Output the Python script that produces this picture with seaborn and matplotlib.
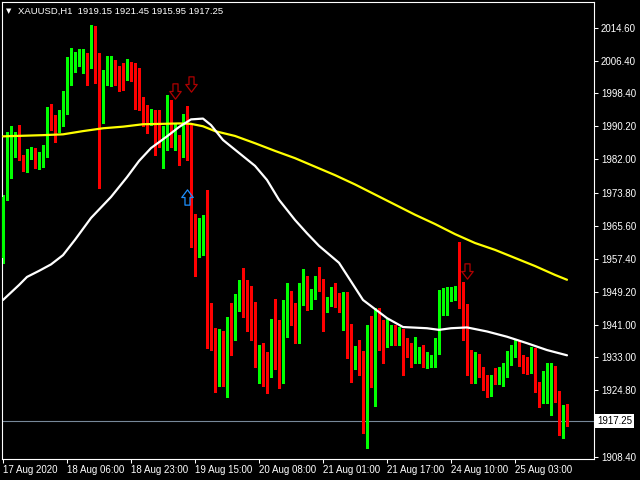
import numpy as np
import pandas as pd
import seaborn as sns
import matplotlib.pyplot as plt
from matplotlib.path import Path

# XAUUSD H1 candles
opens = [1957.6, 1972.5, 1980.2, 1984.8, 1987.5, 1982.3, 1979.5, 1983.0, 1984.1, 1980.9,
         1982.7, 1984.3, 1993.2, 1992.0, 1990.5, 1990.4, 1997.2, 2003.1, 2004.7, 2006.0,
         2006.8, 2007.3, 2006.6, 2013.2, 2004.6, 1992.3, 2002.0, 2005.0, 2005.6, 2003.6,
         2003.5, 2003.3, 2005.9, 2005.0, 2000.2, 1996.3, 1994.5, 1993.5, 1993.4, 1987.0,
         1986.1, 1987.6, 1995.2, 1986.2, 1987.2, 1985.6, 1991.5, 1984.7, 1964.2, 1962.9,
         1962.9, 1965.8, 1946.0, 1939.9, 1926.7, 1939.3, 1927.1, 1942.7, 1941.3, 1946.4,
         1949.4, 1947.4, 1942.9, 1942.0, 1934.0, 1934.6, 1930.7, 1930.7, 1937.3, 1934.0,
         1931.1, 1944.3, 1946.5, 1944.0, 1939.8, 1948.9, 1952.4, 1946.0, 1947.8, 1952.4,
         1950.7, 1945.0, 1946.2, 1949.7, 1947.7, 1947.0, 1948.7, 1940.6, 1934.2, 1935.3,
         1934.6, 1915.8, 1938.3, 1930.0, 1944.6, 1939.3, 1936.9, 1938.5, 1939.9, 1937.8,
         1939.3, 1937.0, 1934.6, 1934.5, 1934.4, 1935.1, 1931.1, 1933.0, 1933.2, 1934.4,
         1943.9, 1946.2, 1947.0, 1949.5, 1949.7, 1948.4, 1937.9, 1930.7, 1929.9, 1931.1,
         1928.4, 1927.4, 1926.6, 1929.0, 1928.4, 1929.5, 1929.6, 1933.8, 1934.3, 1935.8,
         1932.5, 1930.7, 1930.5, 1934.8, 1925.3, 1923.3, 1923.7, 1924.9, 1925.9, 1923.0,
         1917.5, 1919.15]
highs = [1973.2, 1988.7, 1990.3, 1988.9, 1990.5, 1983.1, 1984.5, 1985.1, 1984.9, 1983.9,
         1985.5, 1994.9, 1995.7, 1993.0, 1994.2, 1999.0, 2007.3, 2009.5, 2008.7, 2009.3,
         2009.3, 2008.3, 2015.2, 2014.9, 2008.3, 2004.1, 2007.6, 2007.6, 2006.6, 2005.1,
         2005.8, 2006.9, 2006.1, 2005.8, 2004.6, 1997.4, 1995.5, 1994.4, 1994.2, 1994.2,
         1990.3, 1997.9, 1996.7, 1991.0, 1988.0, 1993.2, 1995.2, 1990.5, 1968.5, 1967.4,
         1968.2, 1974.3, 1946.5, 1940.2, 1939.9, 1939.5, 1942.9, 1946.4, 1948.7, 1952.2,
         1955.1, 1952.2, 1950.7, 1946.8, 1936.1, 1936.5, 1934.3, 1942.5, 1947.4, 1942.2,
         1947.2, 1951.5, 1949.3, 1946.5, 1951.5, 1954.8, 1953.1, 1949.8, 1953.1, 1955.3,
         1952.4, 1948.0, 1950.5, 1951.3, 1948.9, 1949.1, 1949.1, 1941.2, 1935.8, 1937.3,
         1934.6, 1941.0, 1943.3, 1945.3, 1945.3, 1942.2, 1942.4, 1941.0, 1941.0, 1940.6,
         1939.9, 1937.7, 1936.5, 1938.0, 1935.6, 1936.1, 1934.3, 1933.6, 1937.7, 1949.7,
         1950.1, 1950.3, 1950.5, 1950.7, 1961.6, 1951.7, 1946.2, 1934.8, 1934.4, 1933.8,
         1930.7, 1928.6, 1928.6, 1930.3, 1930.7, 1931.7, 1934.6, 1936.1, 1937.3, 1937.1,
         1933.6, 1933.2, 1935.5, 1935.2, 1927.0, 1929.5, 1931.7, 1931.7, 1930.9, 1924.7,
         1921.2, 1921.45]
lows = [1956.4, 1972.0, 1977.4, 1982.7, 1981.9, 1979.2, 1979.0, 1982.0, 1979.8, 1979.6,
        1980.2, 1982.7, 1989.3, 1986.4, 1988.9, 1990.3, 1993.2, 2000.4, 2003.7, 2005.0,
        2003.3, 2000.3, 2004.6, 2000.8, 1974.9, 1991.1, 2000.4, 2000.2, 2000.3, 1999.0,
        1999.2, 2001.7, 2001.5, 1994.4, 1994.2, 1990.3, 1988.6, 1990.5, 1983.1, 1985.1,
        1979.8, 1984.3, 1985.1, 1984.3, 1980.6, 1982.5, 1981.9, 1960.4, 1953.2, 1957.9,
        1958.3, 1935.3, 1934.8, 1924.3, 1925.9, 1925.9, 1923.3, 1933.6, 1937.3, 1944.5,
        1942.9, 1939.6, 1937.3, 1930.5, 1926.6, 1925.9, 1924.1, 1928.2, 1930.0, 1925.3,
        1926.7, 1938.1, 1941.0, 1936.6, 1936.6, 1946.0, 1944.6, 1945.0, 1947.4, 1949.3,
        1939.6, 1944.3, 1945.7, 1945.4, 1944.3, 1939.8, 1932.8, 1927.0, 1930.1, 1928.6,
        1914.3, 1910.5, 1925.7, 1921.0, 1934.8, 1931.7, 1935.5, 1936.1, 1936.1, 1936.1,
        1928.6, 1933.2, 1930.7, 1931.5, 1931.7, 1930.7, 1930.3, 1930.7, 1930.5, 1933.8,
        1943.5, 1943.5, 1947.0, 1947.2, 1945.3, 1937.3, 1928.6, 1926.7, 1926.7, 1928.1,
        1924.9, 1923.1, 1923.4, 1926.4, 1926.4, 1925.9, 1928.2, 1931.1, 1933.2, 1930.9,
        1929.1, 1928.9, 1929.0, 1924.3, 1920.8, 1921.6, 1921.8, 1918.7, 1922.0, 1913.8,
        1913.0, 1915.95]
closes = [1972.7, 1980.4, 1985.3, 1987.1, 1982.3, 1979.7, 1984.1, 1984.6, 1980.9, 1982.8,
          1984.6, 1993.0, 1991.5, 1990.4, 1990.7, 1997.4, 2003.1, 2005.1, 2006.4, 2006.9,
          2007.6, 2006.4, 2013.0, 2004.6, 1992.0, 2002.1, 2006.8, 2005.6, 2003.3, 2003.4,
          2001.5, 2005.9, 2004.8, 2000.0, 1996.0, 1994.4, 1993.2, 1993.8, 1986.8, 1986.4,
          1987.6, 1995.2, 1986.4, 1987.2, 1985.6, 1991.5, 1984.6, 1964.1, 1962.9, 1963.7,
          1965.8, 1946.0, 1939.8, 1927.6, 1939.3, 1927.1, 1942.5, 1941.6, 1946.4, 1949.4,
          1947.4, 1942.9, 1941.6, 1934.0, 1934.8, 1930.7, 1930.5, 1937.3, 1933.6, 1931.1,
          1944.5, 1946.2, 1943.9, 1939.9, 1949.3, 1952.2, 1946.5, 1948.2, 1952.7, 1950.7,
          1945.3, 1946.7, 1949.4, 1947.4, 1947.0, 1948.4, 1940.6, 1934.4, 1935.3, 1934.4,
          1915.8, 1938.3, 1930.2, 1944.6, 1939.0, 1936.6, 1938.8, 1940.0, 1938.1, 1939.3,
          1936.9, 1934.6, 1934.5, 1935.0, 1935.0, 1931.5, 1933.2, 1933.4, 1934.6, 1944.3,
          1946.2, 1947.4, 1949.7, 1949.7, 1948.4, 1937.9, 1930.0, 1930.0, 1931.1, 1928.4,
          1927.4, 1926.6, 1928.1, 1928.4, 1929.6, 1930.2, 1934.2, 1934.6, 1935.8, 1932.5,
          1930.7, 1930.5, 1934.8, 1925.3, 1923.3, 1924.3, 1924.9, 1925.9, 1923.0, 1917.5,
          1919.2, 1917.25]

# moving averages, sampled along the chart
slow_idx = [0, 10, 15, 20, 25, 30, 35, 40, 44, 47, 50, 53, 58, 63, 68, 73, 78, 83, 88,
            93, 98, 103, 108, 113, 118, 123, 128, 133, 138, 141]
slow_ma = [1987.7, 1988.0, 1988.2, 1989.0, 1989.7, 1990.1, 1990.7, 1990.8, 1990.9, 1990.8,
           1990.2, 1989.0, 1987.8, 1986.0, 1984.1, 1982.3, 1980.2, 1978.1, 1975.8, 1973.3,
           1970.8, 1968.3, 1966.0, 1963.5, 1961.3, 1959.6, 1957.6, 1955.6, 1953.4, 1952.2]
fast_idx = [0, 4, 6, 9, 12, 15, 18, 22, 27, 31, 34, 37, 41, 44, 47, 50, 52, 55, 59, 63,
            66, 69, 73, 76, 79, 84, 90, 96, 100, 106, 109, 112, 116, 121, 126, 131, 136, 141]
fast_ma = [1947.2, 1950.9, 1952.9, 1954.4, 1956.0, 1958.3, 1962.1, 1967.5, 1972.7, 1977.6,
           1981.6, 1984.8, 1987.7, 1990.0, 1991.9, 1992.1, 1990.5, 1986.8, 1983.6, 1980.4,
           1976.9, 1972.0, 1967.0, 1963.7, 1960.6, 1956.4, 1947.2, 1942.7, 1940.5, 1940.2,
           1939.8, 1940.2, 1940.4, 1939.4, 1938.1, 1936.5, 1934.8, 1933.5]

# signal arrows
sell_idx = [43, 47, 116]
sell_price = [1998.9, 2000.7, 1954.4]
buy_idx = [46]
buy_price = [1972.7]

last_price = 1917.25
title = 'XAUUSD,H1  1919.15 1921.45 1915.95 1917.25'

tick_pos = [0, 16, 32, 48, 64, 80, 96, 112, 128]
tick_labels = ['17 Aug 2020', '18 Aug 06:00', '18 Aug 23:00', '19 Aug 15:00', '20 Aug 08:00',
               '21 Aug 01:00', '21 Aug 17:00', '24 Aug 10:00', '25 Aug 03:00']
price_ticks = [2014.60, 2006.40, 1998.40, 1990.20, 1982.00, 1973.80, 1965.60, 1957.40,
               1949.20, 1941.00, 1933.00, 1924.80, 1908.40]

candles = pd.DataFrame({'open': opens, 'high': highs, 'low': lows, 'close': closes})
candles['bar'] = np.arange(len(candles))

sns.set_theme(style='dark', rc={'axes.facecolor': 'black', 'figure.facecolor': 'black'})
plt.rcParams['font.family'] = ['Liberation Sans', 'DejaVu Sans']

fig = plt.figure(figsize=(6.4, 4.8), dpi=100)
ax = fig.add_axes([2 / 640, 21 / 480, 592 / 640, 457 / 480])
ax.set_facecolor('black')

bull = candles['close'] >= candles['open']
colors = np.where(bull, '#00FF00', '#FF0000')
ax.vlines(candles['bar'], candles['low'], candles['high'], colors=colors,
          linewidth=0.75, antialiased=False, zorder=2)
body_low = np.minimum(candles['open'], candles['close'])
body_h = np.maximum((candles['close'] - candles['open']).abs(), 0.25)
ax.bar(candles['bar'], body_h, bottom=body_low, width=0.62, color=colors,
       linewidth=0, antialiased=False, zorder=3)

sns.lineplot(x=slow_idx, y=slow_ma, color='#FFFF00', linewidth=1.6, ax=ax, zorder=4)
sns.lineplot(x=fast_idx, y=fast_ma, color='white', linewidth=1.6, ax=ax, zorder=4)

ax.axhline(last_price, color='#778899', linewidth=0.8, zorder=1)

down = Path([(-0.33, 1), (0.33, 1), (0.33, 0.0), (0.75, 0.0), (0, -1),
             (-0.75, 0.0), (-0.33, 0.0), (-0.33, 1)], closed=True)
up = Path([(-0.33, -1), (0.33, -1), (0.33, 0.0), (0.75, 0.0), (0, 1),
           (-0.75, 0.0), (-0.33, 0.0), (-0.33, -1)], closed=True)
ax.plot(sell_idx, sell_price, linestyle='none', marker=down, markersize=11,
        markerfacecolor='none', markeredgecolor='#B00000', markeredgewidth=0.9, zorder=5)
ax.plot(buy_idx, buy_price, linestyle='none', marker=up, markersize=11,
        markerfacecolor='none', markeredgecolor='#1E90FF', markeredgewidth=0.9, zorder=5)

ax.set_xlim(-0.25, 147.75)
ax.set_ylim(1907.83, 2020.96)
ax.grid(False)
for s in ax.spines.values():
    s.set_color('white')
    s.set_linewidth(0.8)

ax.yaxis.tick_right()
ax.set_yticks(price_ticks)
ax.set_yticklabels([f'{p:.2f}' for p in price_ticks])
ax.tick_params(axis='y', colors='white', length=3, width=0.75, pad=2, labelsize=7,
               direction='out', right=True, left=False)
ax.set_xticks(tick_pos)
ax.set_xticklabels(tick_labels, ha='left')
ax.tick_params(axis='x', colors='white', length=3, width=0.75, pad=1, labelsize=7,
               direction='out', bottom=True)
ax.set_xlabel('')
ax.set_ylabel('')

ax.text(1.0 + 3 / 592, last_price, f'{last_price:.2f}', transform=ax.get_yaxis_transform(),
        ha='left', va='center', fontsize=7, color='black', zorder=10,
        bbox=dict(boxstyle='square,pad=0.2', fc='white', ec='none'))

fig.text(9 / 640, 1 - 11 / 480, '\u25bc', fontsize=5, color='white', ha='center',
         va='center', family='DejaVu Sans')
fig.text(18 / 640, 1 - 11 / 480, title, fontsize=6.8, color='white', ha='left', va='center')

fig.savefig('out.png', dpi=100, facecolor='black')
